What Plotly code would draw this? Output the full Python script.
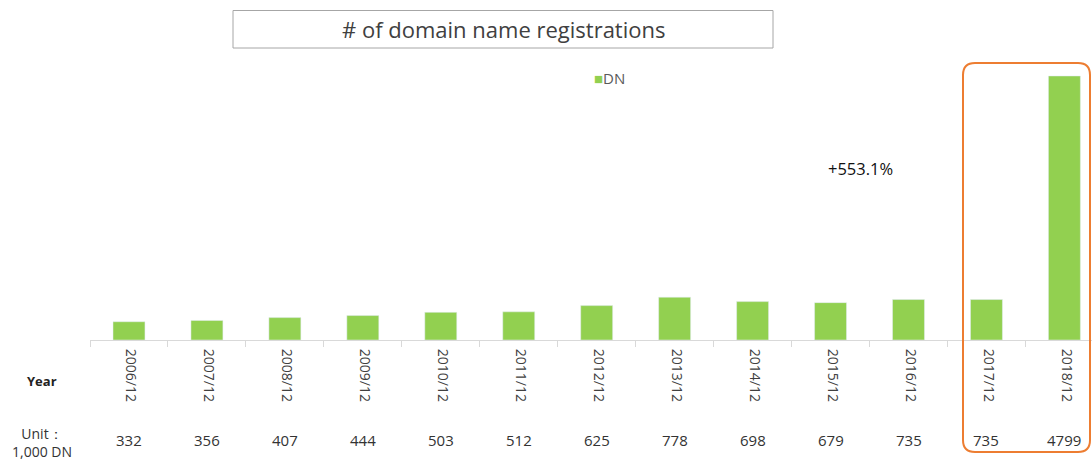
import plotly.graph_objects as go

# ---- data ----
years = ["2006/12", "2007/12", "2008/12", "2009/12", "2010/12", "2011/12", "2012/12",
         "2013/12", "2014/12", "2015/12", "2016/12", "2017/12", "2018/12"]
dn_values = [332, 356, 407, 444, 503, 512, 625, 778, 698, 679, 735, 735, 4799]
series_name = "DN"
title_text = "# of domain name registrations"
growth_text = "+553.1%"

W, H = 1092, 464
L, R, T, B = 90, 0, 0, 124
PW, PH = W - L - R, H - T - B


def px(x):
    return (x - L) / PW


def py(y):
    return (T + PH - y) / PH


GREEN = "#92D050"
ORANGE = "#ED7D31"
FONT = "Open Sans"

fig = go.Figure()
fig.add_trace(go.Bar(
    x=years, y=dn_values, name=series_name, marker_color=GREEN,
    width=0.41, showlegend=False,
))

ann = []
# values row
for yr, v in zip(years, dn_values):
    ann.append(dict(x=yr, xref="x", y=py(440), yref="paper", text=str(v),
                    showarrow=False, font=dict(family=FONT, size=15, color="#333333"),
                    xanchor="center", yanchor="middle"))
# row labels
ann.append(dict(x=px(42), xref="paper", y=py(381), yref="paper", text="<b>Year</b>",
                showarrow=False, font=dict(family=FONT, size=13, color="#222222"),
                xanchor="center", yanchor="middle"))
ann.append(dict(x=px(42), xref="paper", y=py(442), yref="paper", text="Unit：<br>1,000 DN",
                showarrow=False, font=dict(family=FONT, size=14, color="#333333"),
                xanchor="center", yanchor="middle", align="center"))
# title
ann.append(dict(x=px(503), xref="paper", y=py(29), yref="paper", text=title_text,
                showarrow=False, font=dict(family=FONT, size=22, color="#404040"),
                xanchor="center", yanchor="middle"))
# legend
ann.append(dict(x=px(592), xref="paper", y=py(78), yref="paper",
                text=f"<span style='color:{GREEN}'>■</span>{series_name}",
                showarrow=False, font=dict(family=FONT, size=15, color="#595959"),
                xanchor="left", yanchor="middle"))
# growth text
ann.append(dict(x=px(860), xref="paper", y=py(168), yref="paper", text=growth_text,
                showarrow=False, font=dict(family=FONT, size=16.5, color="#111111"),
                xanchor="center", yanchor="middle"))

shapes = []
# title box
shapes.append(dict(type="rect", xref="paper", yref="paper",
                   x0=px(233), x1=px(773), y0=py(48), y1=py(10.5),
                   line=dict(color="#A6A6A6", width=1), fillcolor="rgba(0,0,0,0)"))
# rounded orange rect
x0, x1, ytop, ybot, r = 963, 1090, 63, 452, 12
pts = (f"M {px(x0 + r)},{py(ytop)} L {px(x1 - r)},{py(ytop)} "
       f"Q {px(x1)},{py(ytop)} {px(x1)},{py(ytop + r)} "
       f"L {px(x1)},{py(ybot - r)} Q {px(x1)},{py(ybot)} {px(x1 - r)},{py(ybot)} "
       f"L {px(x0 + r)},{py(ybot)} Q {px(x0)},{py(ybot)} {px(x0)},{py(ybot - r)} "
       f"L {px(x0)},{py(ytop + r)} Q {px(x0)},{py(ytop)} {px(x0 + r)},{py(ytop)} Z")
shapes.append(dict(type="path", xref="paper", yref="paper", path=pts,
                   line=dict(color=ORANGE, width=2), fillcolor="rgba(0,0,0,0)"))

fig.update_layout(
    width=W, height=H,
    margin=dict(l=L, r=R, t=T, b=B, pad=0),
    plot_bgcolor="white", paper_bgcolor="white",
    annotations=ann, shapes=shapes,
    bargap=0.59,
)
fig.update_xaxes(
    range=[-0.5, 12.354], showgrid=False, showline=True, linecolor="#D9D9D9",
    ticks="outside", tickson="boundaries", ticklen=6, tickcolor="#D9D9D9",
    tickangle=90, tickfont=dict(family=FONT, size=14, color="#404040"),
    ticklabelshift=2, ticklabelstandoff=5, zeroline=False,
)
fig.update_yaxes(range=[0, 6180], visible=False, showgrid=False, zeroline=False)

fig.write_html("out.html", config={"displayModeBar": False},
               post_script="document.body.style.margin='0';")
